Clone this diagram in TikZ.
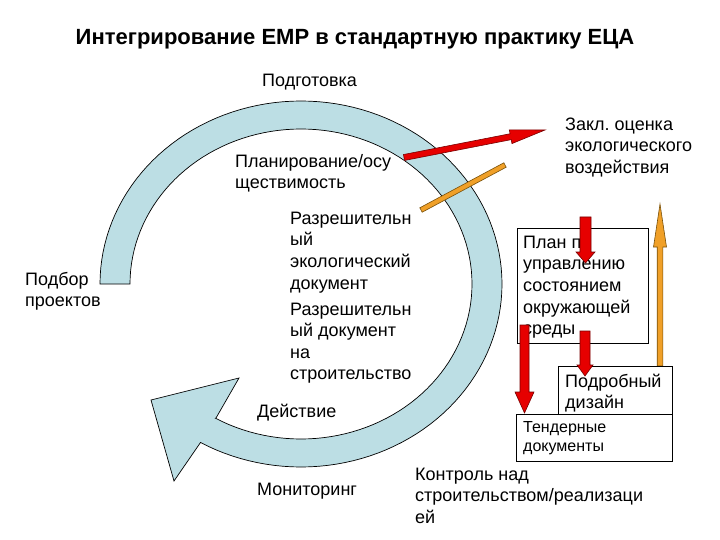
\documentclass[tikz,border=0pt]{standalone}
\usepackage{fontspec}
\setmainfont{Liberation Sans}
\usetikzlibrary{calc}
\definecolor{bandfill}{RGB}{188,222,228}
\definecolor{rfill}{RGB}{230,0,0}
\definecolor{rline}{RGB}{120,0,0}
\definecolor{ofill}{RGB}{240,160,40}
\definecolor{oline}{RGB}{120,80,10}
\newcommand\fatarrow[6]{%
  \coordinate (fah) at ($(#3)!#6!(#2)$);
  \draw[#1] ($(#2)!#4!90:(#3)$) -- ($(fah)!#4!-90:(#2)$) -- ($(fah)!#5!-90:(#2)$) -- (#3)
    -- ($(fah)!#5!90:(#2)$) -- ($(fah)!#4!90:(#2)$) -- ($(#2)!#4!-90:(#3)$) -- cycle;}
\newcommand\tp{\rule{0pt}{16pt}}
\frenchspacing
\begin{document}
\frenchspacing
\begin{tikzpicture}[x=1pt,y=-1pt,
  txt/.style={anchor=north west, inner sep=0pt, align=left, font=\fontsize{18}{21.6}\selectfont},
  smalltxt/.style={anchor=north west, inner sep=0pt, align=left, font=\fontsize{16}{19.2}\selectfont},
  bandst/.style={fill=bandfill, draw=black, line width=0.7pt, line join=miter},
  redst/.style={fill=rfill, draw=rline, line width=0.6pt},
  orst/.style={fill=ofill, draw=oline, line width=0.6pt},
  boxst/.style={draw=black, fill=white, line width=0.8pt, inner sep=0pt, anchor=north west}]
\useasboundingbox (0,0) rectangle (720,540);
\fill[white] (0,0) rectangle (720,540);

% title
\node[anchor=base, inner sep=0pt, font=\fontsize{22}{26}\selectfont\bfseries] (title) at (355,45)
  {Интегрирование EMP в стандартную практику ЕЦА};

% circular arrow
\draw[bandst] plot[domain=180:480, samples=121] ({301+201*cos(\x)},{284+183*sin(\x)})
  -- (174,481) -- (151,400) -- (239,378) -- (216,418)
  -- plot[domain=480:180, samples=121] ({301+171*cos(\x)},{284+155*sin(\x)}) -- cycle;

% arrows crossing the cycle
\coordinate (ra1) at (404,157.5);
\coordinate (ra2) at (545,130);
\fatarrow{redst}{ra1}{ra2}{3pt}{7pt}{35pt}
\coordinate (ob1) at (421,210);
\coordinate (ob2) at (505,165);
\fatarrow{orst}{ob1}{ob2}{2.5pt}{2.5pt}{0pt}

% texts around the cycle
\node[txt] (prep) at (262,70) {\tp Подготовка};
\node[txt] (plan) at (235,151) {\tp Планирование/осу\\ществимость};
\node[txt] (perm) at (290,208) {\tp Разрешительн\\ый\\экологический\\документ\\[4.4pt]Разрешительн\\ый документ\\на\\строительство};
\node[txt] (act) at (257,401) {\tp Действие};
\node[txt] (mon) at (257,479) {\tp Мониторинг};
\node[txt] (sel) at (25,269) {\tp Подбор\\проектов};
\node[txt] (eia) at (565,114) {\tp Закл.\ оценка\\экологического\\воздействия};
\node[txt] (ctrl) at (415,464) {\tp Контроль над\\строительством/реализаци\\ей};

% boxes
\node[boxst, minimum width=131pt, minimum height=115pt] (empbox) at (517,228) {};
\node[txt] (emp) at (523,232) {\tp План по\\управлению\\состоянием\\окружающей\\среды};

\coordinate (oa1) at (660,366);
\coordinate (oa2) at (660,204);
\fatarrow{orst}{oa1}{oa2}{2.8pt}{6.5pt}{43pt}

\node[boxst, minimum width=114pt, minimum height=48pt] (desbox) at (558,366) {};
\node[txt] (des) at (565,371) {\tp Подробный\\дизайн};
\node[boxst, minimum width=156pt, minimum height=47pt] (tenbox) at (516,414) {};
\node[smalltxt] (ten) at (523,416) {\tp Тендерные\\документы};

% red down arrows
\coordinate (d1a) at (585.5,217);
\coordinate (d1b) at (585.5,263);
\fatarrow{redst}{d1a}{d1b}{5.5pt}{9.5pt}{11pt}
\coordinate (d2a) at (524.5,325);
\coordinate (d2b) at (524.5,413);
\fatarrow{redst}{d2a}{d2b}{4.5pt}{9.5pt}{21pt}
\coordinate (d3a) at (585,331);
\coordinate (d3b) at (585,376);
\fatarrow{redst}{d3a}{d3b}{5pt}{8pt}{11pt}
\end{tikzpicture}
\end{document}
